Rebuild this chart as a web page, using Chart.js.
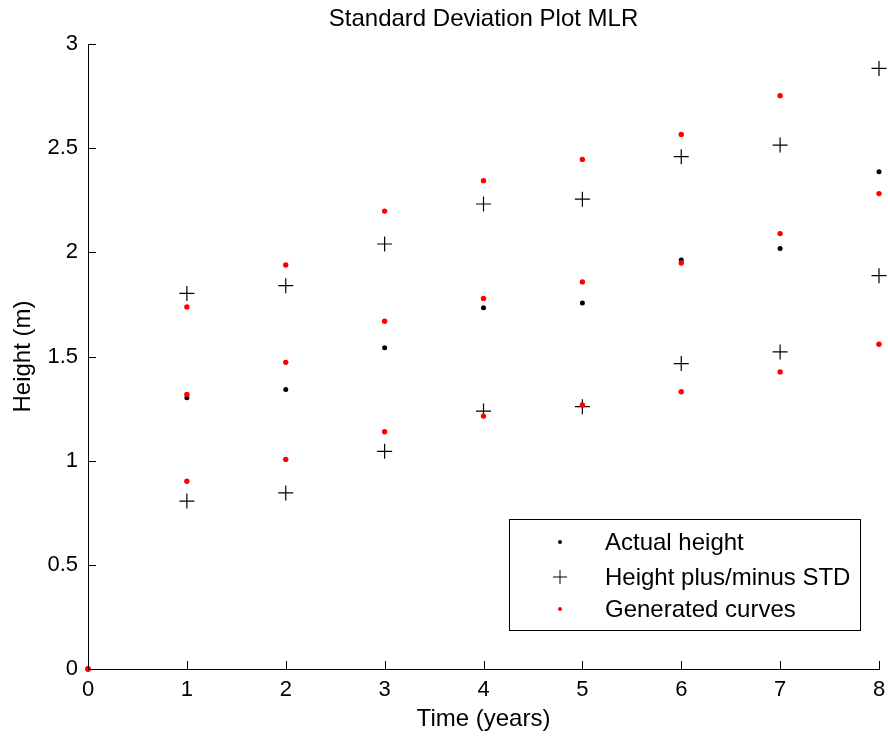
<!DOCTYPE html>
<html><head><meta charset="utf-8">
<script src="https://cdn.jsdelivr.net/npm/chart.js@4.4.0/dist/chart.umd.min.js"></script>
<style>html,body{margin:0;padding:0;background:#fff;}#wrap{width:888px;height:736px;position:relative;}</style>
</head><body><div id="wrap"><canvas id="c" width="888" height="736"></canvas></div>
<script>
// ---- data ----
const chartTitle = 'Standard Deviation Plot MLR';
const xAxisTitle = 'Time (years)';
const yAxisTitle = 'Height (m)';
const years = [0, 1, 2, 3, 4, 5, 6, 7, 8];
const xTickLabels = ['0', '1', '2', '3', '4', '5', '6', '7', '8'];
const yTickLabels = ['0', '0.5', '1', '1.5', '2', '2.5', '3'];
const yTickValues = [0, 0.5, 1, 1.5, 2, 2.5, 3];
const actualYears = [1, 2, 3, 4, 5, 6, 7, 8];
const actualHeight = [1.302, 1.342, 1.542, 1.734, 1.757, 1.963, 2.018, 2.387];
const heightPlusStd = [1.803, 1.840, 2.040, 2.232, 2.255, 2.459, 2.515, 2.883];
const heightMinusStd = [0.806, 0.845, 1.045, 1.238, 1.259, 1.466, 1.522, 1.888];
const genUpper = [0, 1.738, 1.939, 2.198, 2.344, 2.446, 2.566, 2.752, null];
const genMiddle = [0, 1.318, 1.472, 1.669, 1.779, 1.858, 1.949, 2.090, 2.282];
const genLower = [0, 0.901, 1.006, 1.139, 1.214, 1.267, 1.331, 1.426, 1.559];
const legendLabels = ['Actual height', 'Height plus/minus STD', 'Generated curves'];

const FONT = '"Liberation Sans", Arial, Helvetica, sans-serif';
Chart.defaults.font.family = FONT;
Chart.defaults.color = '#000';

const pts = (xs, ys) => xs.map((x, i) => ({x, y: ys[i]})).filter(p => p.y !== null);

const stdPoints = pts(actualYears, heightPlusStd).concat(pts(actualYears, heightMinusStd));
const genPoints = pts(years, genUpper).concat(pts(years, genMiddle), pts(years, genLower));

const decor = {
  id: 'decor',
  afterDraw(chart) {
    const ctx = chart.ctx, xs = chart.scales.x, ys = chart.scales.y, a = chart.chartArea;
    ctx.save();
    // inward tick marks
    ctx.strokeStyle = '#000'; ctx.lineWidth = 1;
    ctx.beginPath();
    xs.ticks.forEach(t => { const p = Math.round(xs.getPixelForValue(t.value)) + 0.5; ctx.moveTo(p, a.bottom); ctx.lineTo(p, a.bottom - 8); });
    ys.ticks.forEach(t => { const p = Math.round(ys.getPixelForValue(t.value)) + 0.5; ctx.moveTo(a.left, p); ctx.lineTo(a.left + 8, p); });
    ctx.stroke();
    // title
    ctx.fillStyle = '#000';
    ctx.font = '24px ' + FONT;
    ctx.textAlign = 'center'; ctx.textBaseline = 'middle';
    ctx.fillText(chartTitle, (a.left + a.right) / 2, 19);
    // legend box
    const bx = 509.5, by = 519.5, bw = 351, bh = 111;
    ctx.fillStyle = '#fff';
    ctx.fillRect(bx, by, bw, bh);
    ctx.strokeStyle = '#000'; ctx.lineWidth = 1;
    ctx.strokeRect(bx, by, bw, bh);
    const rows = [543, 578, 610], mx = 560;
    ctx.fillStyle = '#000';
    ctx.beginPath(); ctx.arc(mx, rows[0] - 1, 2, 0, Math.PI * 2); ctx.fill();
    ctx.beginPath();
    ctx.moveTo(mx - 7, rows[1] - 1); ctx.lineTo(mx + 7, rows[1] - 1);
    ctx.moveTo(mx, rows[1] - 8); ctx.lineTo(mx, rows[1] + 6);
    ctx.stroke();
    ctx.fillStyle = '#f00';
    ctx.beginPath(); ctx.arc(mx, rows[2] - 1, 2, 0, Math.PI * 2); ctx.fill();
    ctx.fillStyle = '#000';
    ctx.font = '24px ' + FONT;
    ctx.textAlign = 'left'; ctx.textBaseline = 'middle';
    legendLabels.forEach((l, i) => ctx.fillText(l, 605, rows[i]));
    ctx.restore();
  }
};

new Chart(document.getElementById('c'), {
  type: 'scatter',
  data: {
    datasets: [
      {label: legendLabels[2], data: genPoints, order: 0, clip: false,
       pointStyle: 'circle', pointRadius: 2.7, pointBackgroundColor: '#f00', pointBorderWidth: 0, pointBorderColor: '#f00'},
      {label: legendLabels[0], data: pts(actualYears, actualHeight), order: 1, clip: false,
       pointStyle: 'circle', pointRadius: 2.5, pointBackgroundColor: '#000', pointBorderWidth: 0, pointBorderColor: '#000'},
      {label: legendLabels[1], data: stdPoints, order: 2, clip: false,
       pointStyle: 'cross', pointRadius: 7.5, pointBorderColor: '#000', pointBorderWidth: 1.2, pointBackgroundColor: '#000'}
    ]
  },
  options: {
    responsive: false, animation: false, events: [],
    layout: {padding: {top: 44, right: 9, left: 0, bottom: 0}},
    plugins: {legend: {display: false}, tooltip: {enabled: false}, title: {display: false}},
    scales: {
      x: {
        type: 'linear', min: 0, max: 8,
        afterFit(s) { s.height = 67; s.paddingLeft = 0; s.paddingRight = 0; },
        afterBuildTicks(s) { s.ticks = years.map(v => ({value: v})); },
        ticks: {font: {size: 22}, padding: 8, maxRotation: 0, callback: (v) => xTickLabels[years.indexOf(v)] ?? ''},
        grid: {display: false, drawTicks: false},
        border: {display: true, color: '#000', width: 1},
        title: {display: true, text: xAxisTitle, font: {size: 24}, padding: {top: 0, bottom: 2}}
      },
      y: {
        type: 'linear', min: 0, max: 3,
        afterFit(s) { s.width = 88; s.paddingTop = 0; s.paddingBottom = 0; },
        afterBuildTicks(s) { s.ticks = yTickValues.map(v => ({value: v})); },
        ticks: {font: {size: 22}, padding: 10, callback: (v) => yTickLabels[yTickValues.indexOf(v)] ?? ''},
        grid: {display: false, drawTicks: false},
        border: {display: true, color: '#000', width: 1},
        title: {display: true, text: yAxisTitle, font: {size: 24}, padding: {top: 9, bottom: 0}}
      }
    }
  },
  plugins: [decor]
});
</script></body></html>
